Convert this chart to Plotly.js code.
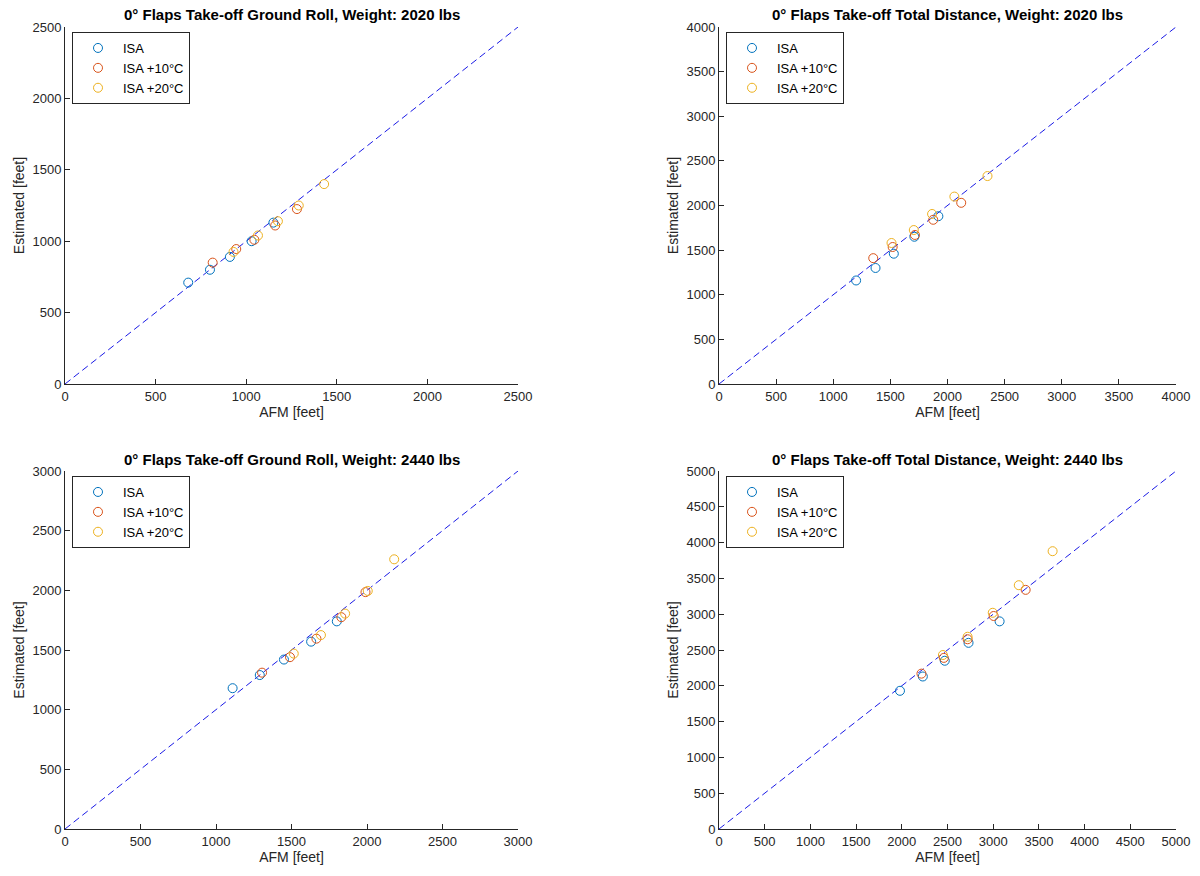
<!DOCTYPE html>
<html>
<head>
<meta charset="utf-8">
<script src="https://cdn.plot.ly/plotly-3.0.1.min.js"></script>
<style>html,body{margin:0;padding:0;background:#fff;}#chart{width:1200px;height:876px;}</style>
</head>
<body>
<div id="chart"></div>
<script>
// ---- data ----
const seriesNames = ["ISA", "ISA +10°C", "ISA +20°C"];
const panelTitles = [
  "0° Flaps Take-off Ground Roll, Weight: 2020 lbs",
  "0° Flaps Take-off Total Distance, Weight: 2020 lbs",
  "0° Flaps Take-off Ground Roll, Weight: 2440 lbs",
  "0° Flaps Take-off Total Distance, Weight: 2440 lbs"
];
const axisMax = [2500, 4000, 3000, 5000];

// Panel 1: Ground roll 2020 lbs
const gr2020_isa_afm   = [680, 800, 910, 1030, 1150];
const gr2020_isa_est   = [710, 800, 890, 1000, 1130];
const gr2020_p10_afm   = [815, 945, 1045, 1160, 1280];
const gr2020_p10_est   = [850, 945, 1010, 1110, 1225];
const gr2020_p20_afm   = [930, 1065, 1175, 1290, 1430];
const gr2020_p20_est   = [925, 1040, 1140, 1250, 1400];

// Panel 2: Total distance 2020 lbs
const td2020_isa_afm   = [1200, 1370, 1530, 1710, 1920];
const td2020_isa_est   = [1160, 1300, 1460, 1650, 1880];
const td2020_p10_afm   = [1350, 1520, 1715, 1875, 2120];
const td2020_p10_est   = [1410, 1535, 1670, 1840, 2030];
const td2020_p20_afm   = [1510, 1705, 1865, 2060, 2350];
const td2020_p20_est   = [1580, 1725, 1905, 2100, 2330];

// Panel 3: Ground roll 2440 lbs
const gr2440_isa_afm   = [1110, 1290, 1450, 1630, 1800];
const gr2440_isa_est   = [1180, 1290, 1420, 1570, 1740];
const gr2440_p10_afm   = [1305, 1490, 1665, 1830, 1990];
const gr2440_p10_est   = [1310, 1440, 1595, 1775, 1985];
const gr2440_p20_afm   = [1515, 1695, 1855, 2005, 2180];
const gr2440_p20_est   = [1470, 1625, 1805, 1995, 2260];

// Panel 4: Total distance 2440 lbs
const td2440_isa_afm   = [1980, 2230, 2470, 2730, 3070];
const td2440_isa_est   = [1930, 2130, 2350, 2600, 2900];
const td2440_p10_afm   = [2215, 2460, 2720, 3005, 3355];
const td2440_p10_est   = [2170, 2390, 2650, 2975, 3340];
const td2440_p20_afm   = [2450, 2720, 2995, 3280, 3650];
const td2440_p20_est   = [2430, 2685, 3020, 3405, 3880];

// ---- styling ----
const colors = ["#0072BD", "#D95319", "#EDB120"];
const panels = [
  [[gr2020_isa_afm, gr2020_isa_est], [gr2020_p10_afm, gr2020_p10_est], [gr2020_p20_afm, gr2020_p20_est]],
  [[td2020_isa_afm, td2020_isa_est], [td2020_p10_afm, td2020_p10_est], [td2020_p20_afm, td2020_p20_est]],
  [[gr2440_isa_afm, gr2440_isa_est], [gr2440_p10_afm, gr2440_p10_est], [gr2440_p20_afm, gr2440_p20_est]],
  [[td2440_isa_afm, td2440_isa_est], [td2440_p10_afm, td2440_p10_est], [td2440_p20_afm, td2440_p20_est]]
];

const W = 1200, H = 876;
// pixel boxes of the axes: [left, right, top, bottom]
const boxes = [
  [65, 518, 27, 384],
  [719, 1176, 27, 384],
  [65, 518, 471, 829],
  [719, 1176, 471, 829]
];

const traces = [];
const layout = {
  width: W, height: H,
  margin: {l: 0, r: 0, t: 0, b: 0},
  paper_bgcolor: "#fff", plot_bgcolor: "#fff",
  font: {family: "Liberation Sans, Arial, sans-serif", color: "#262626", size: 12},
  showlegend: true,
  annotations: []
};

panels.forEach((panel, i) => {
  const n = i + 1;
  const xa = "x" + (n === 1 ? "" : n), ya = "y" + (n === 1 ? "" : n);
  const xk = "xaxis" + (n === 1 ? "" : n), yk = "yaxis" + (n === 1 ? "" : n);
  const lg = "legend" + (n === 1 ? "" : n);
  const b = boxes[i];
  // diagonal reference line
  traces.push({
    x: [0, axisMax[i]], y: [0, axisMax[i]],
    xaxis: xa, yaxis: ya, mode: "lines",
    line: {color: "#1a1ae6", dash: "7px,4px", width: 1},
    showlegend: false, hoverinfo: "skip"
  });
  panel.forEach((s, k) => {
    traces.push({
      x: s[0], y: s[1], xaxis: xa, yaxis: ya,
      mode: "markers", name: seriesNames[k], legend: lg,
      marker: {symbol: "circle-open", size: 9, color: colors[k], line: {width: 1, color: colors[k]}},
      cliponaxis: false
    });
  });
  const axCommon = {
    range: [0, axisMax[i]], dtick: 500, tick0: 0,
    showgrid: false, zeroline: false, showline: true,
    linecolor: "#262626", linewidth: 1,
    ticks: "inside", ticklen: 5, tickcolor: "#262626",
    tickfont: {size: 13, color: "#262626"},
    fixedrange: true
  };
  layout[xk] = Object.assign({}, axCommon, {
    domain: [b[0] / W, b[1] / W],
    anchor: ya,
    title: {text: "AFM [feet]", font: {size: 14, color: "#262626"}, standoff: 2}
  });
  layout[yk] = Object.assign({}, axCommon, {
    domain: [1 - b[3] / H, 1 - b[2] / H],
    anchor: xa,
    title: {text: "Estimated [feet]", font: {size: 14, color: "#262626"}, standoff: 4}
  });
  layout[lg] = {
    x: (b[0] + 7) / W, y: 1 - (b[2] + 5) / H,
    xanchor: "left", yanchor: "top",
    xref: "paper", yref: "paper",
    bgcolor: "#fff", bordercolor: "#262626", borderwidth: 1,
    font: {size: 13, color: "#000"},
    itemwidth: 40,
    tracegroupgap: 0
  };
  layout.annotations.push({
    text: "<b>" + panelTitles[i] + "</b>",
    xref: "paper", yref: "paper",
    x: (b[0] + b[1]) / 2 / W, y: 1 - (b[2] - 12) / H,
    xanchor: "center", yanchor: "middle",
    showarrow: false,
    font: {size: 15, color: "#000"}
  });
});

Plotly.newPlot("chart", traces, layout, {displayModeBar: false, staticPlot: true});
</script>
</body>
</html>
